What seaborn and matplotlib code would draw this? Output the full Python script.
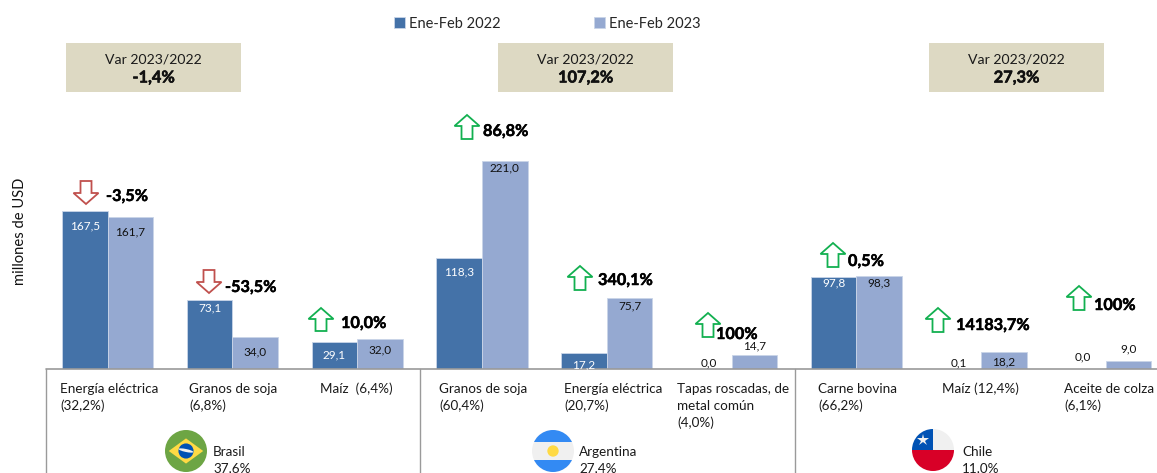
import numpy as np
import pandas as pd
import seaborn as sns
import matplotlib.pyplot as plt
import matplotlib.patheffects as pe
from matplotlib.patches import Circle, Polygon, Rectangle, Ellipse

sns.set_theme(style='white')
plt.rcParams['font.family'] = ['Lato', 'DejaVu Sans']

# datos
categorias = ['Energía eléctrica\n(32,2%)', 'Granos de soja\n(6,8%)', 'Maíz  (6,4%)',
              'Granos de soja\n(60,4%)', 'Energía eléctrica\n(20,7%)',
              'Tapas roscadas, de\nmetal común\n(4,0%)',
              'Carne bovina\n(66,2%)', 'Maíz (12,4%)', 'Aceite de colza\n(6,1%)']
valores_2022 = [167.5, 73.1, 29.1, 118.3, 17.2, 0.0, 97.8, 0.1, 0.0]
valores_2023 = [161.7, 34.0, 32.0, 221.0, 75.7, 14.7, 98.3, 18.2, 9.0]
variacion = ['-3,5%', '-53,5%', '10,0%', '86,8%', '340,1%', '100%', '0,5%', '14183,7%', '100%']
paises = ['Brasil\n37,6%', 'Argentina\n27,4%', 'Chile\n11,0%']
var_total = ['-1,4%', '107,2%', '27,3%']

AZUL = '#4472A8'
CELESTE = '#95A9D1'
W, H = 1157, 473
X0 = 45.3  # borde izquierdo de los ejes en pixeles
ANCHO = 1123

df = pd.DataFrame({
    'cat': list(range(9)) * 2,
    'valor': valores_2022 + valores_2023,
    'periodo': ['Ene-Feb 2022'] * 9 + ['Ene-Feb 2023'] * 9,
})

fig = plt.figure(figsize=(W / 100, H / 100), dpi=100, facecolor='white')
ax = fig.add_axes([X0 / W, (H - 369) / H, ANCHO / W, 369 / H])
sns.barplot(data=df, x='cat', y='valor', hue='periodo', order=list(range(9)),
            palette=[AZUL, CELESTE], width=0.73, gap=0, saturation=1,
            edgecolor='#c9d5e8', linewidth=0.6, ax=ax)
ax.set_xlim(-0.5, 8.5)
ax.set_ylim(0, 369 / 0.941)
ax.set_xlabel('')
ax.set_ylabel('')
ax.set_xticks([])
ax.set_yticks([])
sns.despine(ax=ax, left=True, top=True, right=True, bottom=True)
ax.patch.set_alpha(0)

handles, labels = ax.get_legend_handles_labels()
ax.get_legend().remove()
fig.legend(handles, labels, loc='center left', bbox_to_anchor=(394 / W, 1 - 23.5 / H), ncols=2,
           frameon=False, fontsize=10.5, handlelength=0.75, handleheight=0.75,
           handletextpad=0.25, columnspacing=6.45, borderpad=0, borderaxespad=0)

# capa en pixeles para anotaciones
ov = fig.add_axes([0, 0, 1, 1])
ov.set_xlim(0, W)
ov.set_ylim(H, 0)
ov.axis('off')
ov.patch.set_alpha(0)

ov.plot([46, W], [369, 369], color='#9a9a9a', lw=1.2)
for x in [46, 420, 795]:
    ov.plot([x, x], [369, H], color='#9a9a9a', lw=1.0)

ov.text(20, 231, 'millones de USD', rotation=90, ha='center', va='center', fontsize=10.6, color='#111111')

negrita = [pe.withStroke(linewidth=0.35, foreground='black')]

# cajas de variacion
for x, v in zip([66, 498, 929], var_total):
    ov.add_patch(Rectangle((x, 43), 175, 49, fc='#DDD9C3', ec='none'))
    ov.text(x + 87.5, 59, 'Var 2023/2022', ha='center', va='center', fontsize=10.1, color='#1a1a1a')
    t = ov.text(x + 87.5, 78.5, v, ha='center', va='center', fontsize=11.8, fontweight='bold', color='#111111')
    t.set_path_effects(negrita)

# etiquetas de valor
fmt = lambda v: f'{v:.1f}'.replace('.', ',')
y_2022 = [226, 308, 355, 272, 365, 363, 283, 363, 357]
y_2023 = [232, 352, 350, 168, 306, 346, 283, 362, 349]
bars = ax.containers
for i in range(9):
    p1 = bars[0][i]
    p2 = bars[1][i]
    x1 = X0 + (p1.get_x() + p1.get_width() / 2 + 0.5) * ANCHO / 9
    x2 = X0 + (p2.get_x() + p2.get_width() / 2 + 0.5) * ANCHO / 9
    c1 = 'white' if valores_2022[i] > 1 else '#111111'
    ov.text(x1, y_2022[i], fmt(valores_2022[i]), ha='center', va='center', fontsize=8.5, color=c1)
    ov.text(x2, y_2023[i], fmt(valores_2023[i]), ha='center', va='center', fontsize=8.5, color='#111111')

# flechas
def flecha(cx, y0, y1, sube):
    w, s, cab = 12.5, 5.5, 11
    if sube:
        pts = [(cx, y0), (cx + w, y0 + cab), (cx + s, y0 + cab), (cx + s, y1), (cx - s, y1), (cx - s, y0 + cab), (cx - w, y0 + cab)]
        color = '#12B050'
    else:
        pts = [(cx, y1), (cx + w, y1 - cab), (cx + s, y1 - cab), (cx + s, y0), (cx - s, y0), (cx - s, y1 - cab), (cx - w, y1 - cab)]
        color = '#C0504D'
    ov.add_patch(Polygon(pts, closed=True, fc='white', ec=color, lw=1.3, zorder=3))

flechas = [(86, 181, 204), (209, 270, 293), (321, 308, 331), (467, 115, 139), (580, 266, 290),
           (708, 313, 337), (833, 243, 267), (938, 308, 332), (1079, 286, 310)]
x_var = [106, 225, 341, 483, 598, 716, 848, 956, 1094]
y_var = [197, 288, 324, 132, 281, 335, 262, 326, 306]
for i, (cx, y0, y1) in enumerate(flechas):
    flecha(cx, y0, y1, not variacion[i].startswith('-'))
    t = ov.text(x_var[i], y_var[i], variacion[i], ha='left', va='center', fontsize=11.7,
                fontweight='bold', color='black', zorder=4)
    t.set_path_effects(negrita)

# etiquetas de categorias
x_cat = [60, 189, 320, 439, 564, 677, 818, 942, 1064]
for x, c in zip(x_cat, categorias):
    ov.text(x, 382.5, c, ha='left', va='top', fontsize=9.7, color='#1a1a1a', linespacing=1.5)

# banderas
def brasil(cx, cy, r):
    ov.add_patch(Circle((cx, cy), r, fc='#6DA544', ec='none'))
    ov.add_patch(Polygon([(cx - r * 0.82, cy), (cx, cy - r * 0.6), (cx + r * 0.82, cy), (cx, cy + r * 0.6)], fc='#FFDA44', ec='none'))
    ov.add_patch(Circle((cx, cy), r * 0.36, fc='#0052B4', ec='none'))
    ov.add_patch(Ellipse((cx, cy - 0.5), r * 0.72, r * 0.14, angle=12, fc='#F0F0F0', ec='none'))

def argentina(cx, cy, r):
    c = Circle((cx, cy), r, fc='#F0F0F0', ec='none')
    ov.add_patch(c)
    for y in [cy - r, cy + r * 0.42]:
        b = Rectangle((cx - r, y), 2 * r, r * 0.58, fc='#338AF3', ec='none')
        ov.add_patch(b)
        b.set_clip_path(c)
    ov.add_patch(Circle((cx, cy), r * 0.27, fc='#FFDA44', ec='none'))

def chile(cx, cy, r):
    c = Circle((cx, cy), r, fc='#F0F0F0', ec='none')
    ov.add_patch(c)
    b = Rectangle((cx - r, cy), 2 * r, r, fc='#D80027', ec='none')
    ov.add_patch(b)
    b.set_clip_path(c)
    b = Rectangle((cx - r, cy - r), r, r, fc='#0052B4', ec='none')
    ov.add_patch(b)
    b.set_clip_path(c)
    ov.plot([cx - r * 0.5], [cy - r * 0.5], marker='*', color='#F0F0F0', ms=9, mew=0)

brasil(186, 451, 21)
argentina(553, 451, 21)
chile(933, 450, 21)
for x, p in zip([213, 579, 962], paises):
    ov.text(x, 445.5, p, ha='left', va='top', fontsize=9.7, color='#1a1a1a', linespacing=1.5)

fig.savefig('out.png', dpi=100)
